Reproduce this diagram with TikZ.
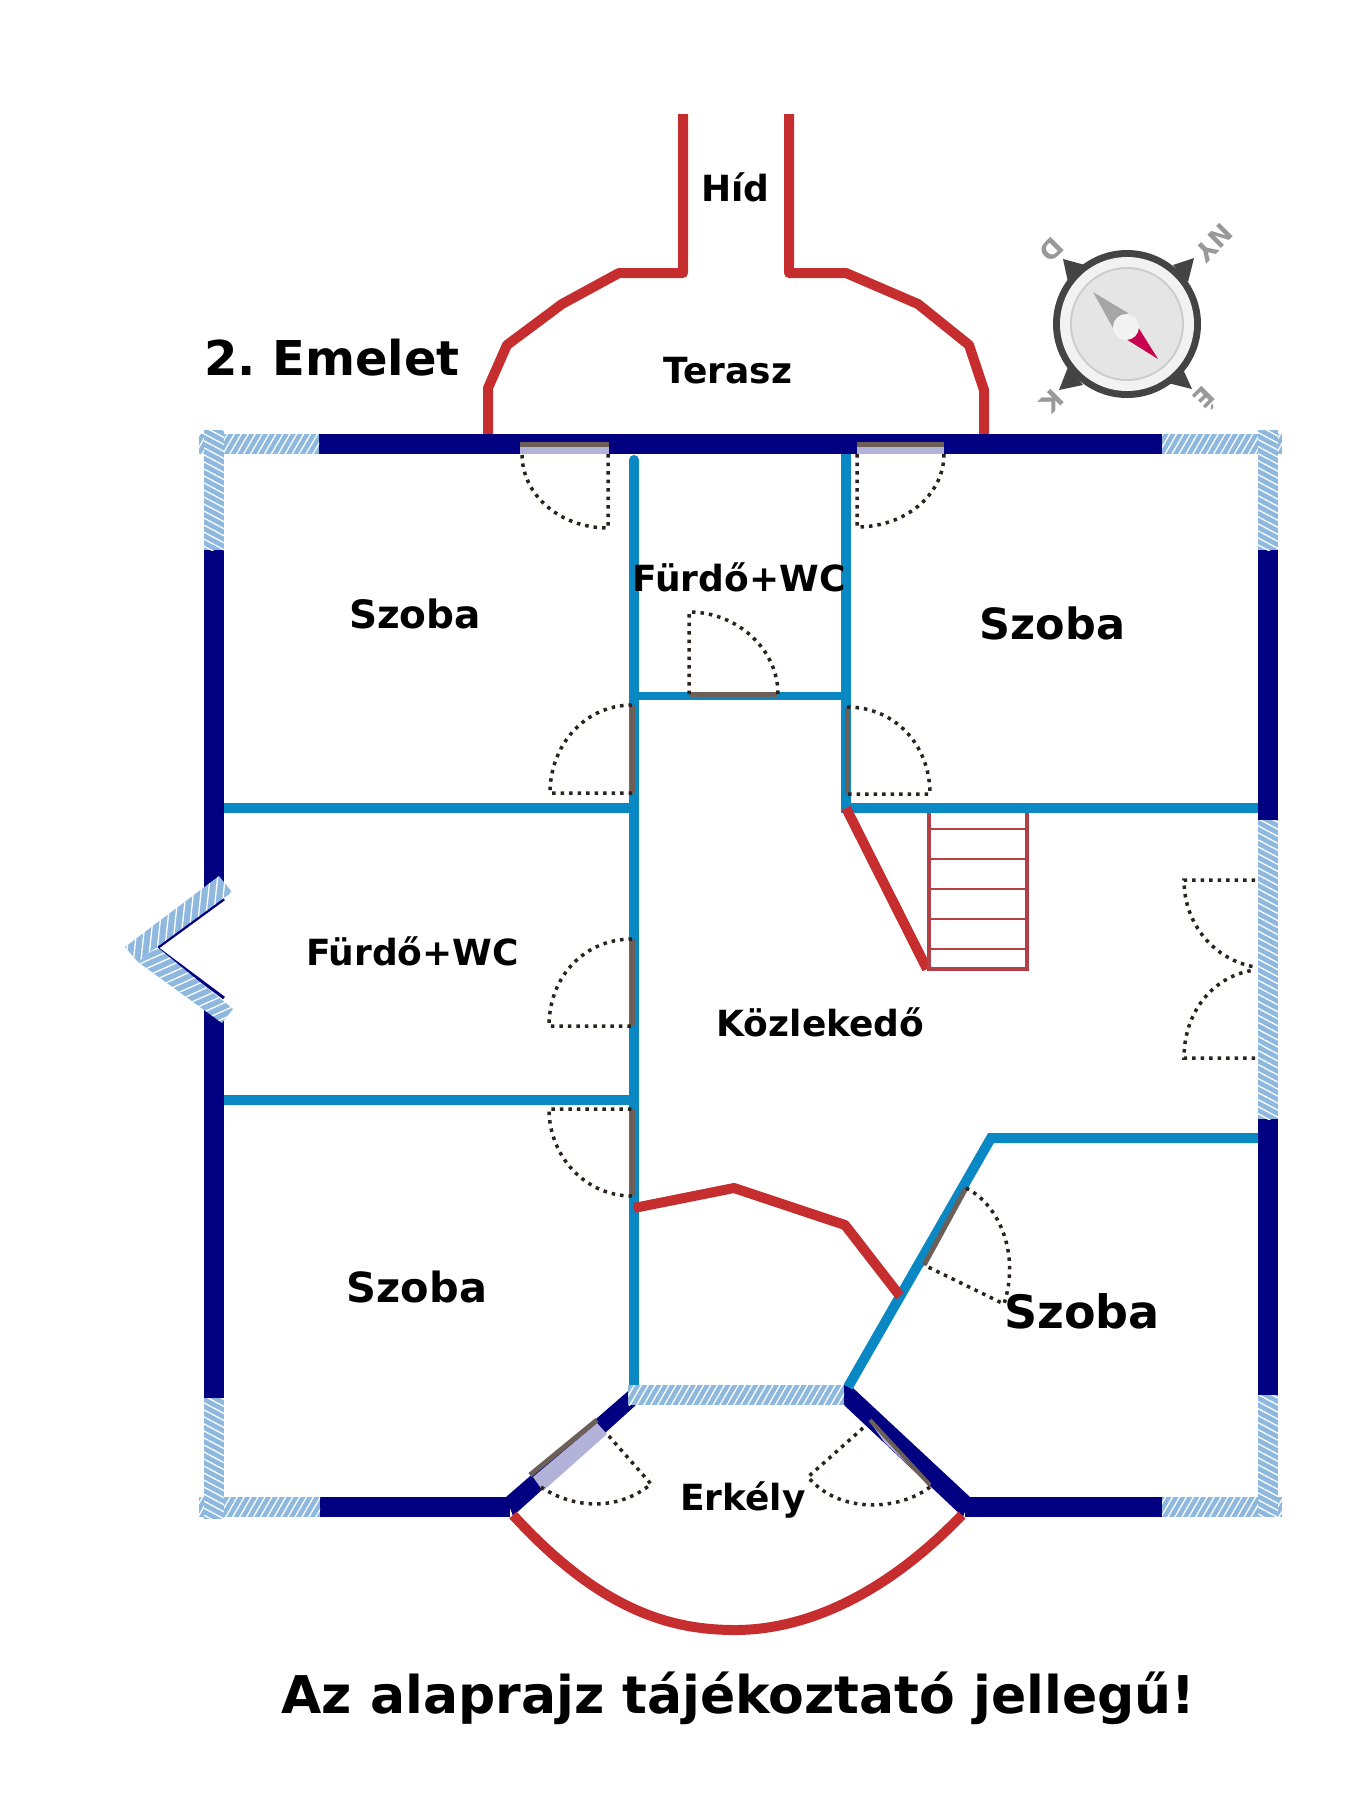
\documentclass[tikz,border=0pt]{standalone}
\usepackage{fontspec}
\setmainfont{DejaVu Sans}
\usetikzlibrary{patterns.meta}
\definecolor{wallnavy}{HTML}{000080}
\definecolor{wallblue}{HTML}{0A88C4}
\definecolor{wallred}{HTML}{C52D2F}
\definecolor{stairred}{HTML}{B33F47}
\definecolor{hatchblue}{HTML}{8FB8DE}
\definecolor{leafgray}{HTML}{6B5F58}
\definecolor{glasslila}{HTML}{B3B3D9}
\definecolor{swingdark}{HTML}{2B221E}
\definecolor{compdark}{HTML}{444444}
\definecolor{needlered}{HTML}{C8004F}

\begin{document}
\frenchspacing
\begin{tikzpicture}[x=1pt,y=-1pt,
			navywall/.style={draw=wallnavy,line width=20pt},
			bluewall/.style={draw=wallblue,line width=10pt,line join=miter},
			redwall/.style={draw=wallred,line width=10pt,line join=round},
			hatch/.style 2 args={preaction={fill=hatchblue},pattern={Lines[angle=#1,distance=#2,line width=1.3pt]},pattern color=white},
			leaf/.style={draw=leafgray,line width=5pt},
			swing/.style={draw=swingdark,line width=3.5pt,dash pattern=on 3.5pt off 5pt},
			stair/.style={draw=stairred,line width=3.5pt},
			roomlabel/.style={font=\bfseries\fontsize{#1}{#1}\selectfont,anchor=base,inner sep=0pt},
			completter/.style={font=\bfseries\fontsize{26}{26}\selectfont,text=black!40,rotate=225,inner sep=0pt}
		]
		\useasboundingbox (0,0) rectangle (1360,1800);

		% terrace and bridge
		\draw[redwall] (683,114) -- (683,273) -- (619,273) -- (562,304) -- (507,345) -- (488,388) -- (488,434);
		\draw[redwall] (789,114) -- (789,273) -- (846,273) -- (918,304) -- (969,345) -- (984,390) -- (984,434);

		% outer walls
		\draw[navywall] (319,444) -- (1162,444);
		\draw[navywall] (214,550) -- (214,888);
		\draw[navywall] (214,1010) -- (214,1398);
		\draw[navywall] (1268,550) -- (1268,820);
		\draw[navywall] (1268,1119) -- (1268,1395);
		\draw[navywall] (320,1507) -- (510,1507);
		\draw[navywall] (965,1507) -- (1162,1507);
		\fill[wallnavy] (506,1497) -- (634,1386) -- (636,1405) -- (513,1516) -- cycle;
		\fill[wallnavy] (844,1385) -- (852,1387) -- (970,1497) -- (963,1517) -- (844,1405) -- cycle;

		% inner walls
		\draw[bluewall,line cap=round] (634,460) -- (634,1385);
		\draw[bluewall] (846,454) -- (846,813);
		\draw[bluewall,line width=8pt] (634,696) -- (846,696);
		\draw[bluewall] (224,808) -- (634,808);
		\draw[bluewall] (846,808) -- (1258,808);
		\draw[bluewall] (224,1100) -- (634,1100);
		\draw[bluewall] (848,1387) -- (991,1138) -- (1258,1138);

		% inner red lines
		\draw[redwall] (634,1208) -- (734,1188) -- (845,1225) -- (900,1296);
		\draw[redwall] (846,808) -- (927,969);

		% stairs
		\draw[stair] (929,813) -- (929,969) -- (1027,969) -- (1027,813);
		\foreach \y in {829,859,889,919,949}
			\draw[stairred,line width=2pt] (929,\y) -- (1027,\y);

		% balcony
		\draw[redwall] (513,1515) .. controls (600,1610) and (670,1630) .. (735,1630) .. controls (800,1630) and (880,1600) .. (962,1515);

		% hatched walls
		\fill[hatch={60}{6pt}] (199,434) rectangle (319,454);
		\fill[hatch={60}{6pt}] (1162,434) rectangle (1282,454);
		\fill[hatch={60}{6pt}] (199,1497) rectangle (320,1517);
		\fill[hatch={60}{6pt}] (1162,1497) rectangle (1282,1517);
		\fill[hatch={60}{6pt}] (628,1385) rectangle (844,1405);
		\fill[hatch={-28}{6.2pt}] (204,430) rectangle (224,550);
		\fill[hatch={-28}{6.2pt}] (1258,430) rectangle (1278,550);
		\fill[hatch={-28}{6.2pt}] (204,1398) rectangle (224,1519);
		\fill[hatch={-28}{6.2pt}] (1258,1395) rectangle (1278,1517);
		\fill[hatch={-28}{6.2pt}] (1258,820) rectangle (1278,1119);

		% bay window
		\draw[wallnavy,line width=3pt] (224,899) -- (157,948) -- (224,998);
		\fill[hatch={84}{7.5pt}] (219,876) -- (232,892) -- (157,947) -- (138,962) -- (125,947) -- cycle;
		\fill[hatch={24}{7pt}] (157,947) -- (233,1009) -- (222,1023) -- (138,962) -- cycle;

		% glass and leaves
		\fill[glasslila] (520,447) rectangle (609,454);
		\fill[glasslila] (857,447) rectangle (944,454);
		\fill[glasslila] (533,1477) -- (597,1423) -- (607,1434) -- (543,1491) -- cycle;
		\fill[glasslila] (870,1422) -- (885,1443) -- (930,1485) -- cycle;
		\draw[leaf] (520,444.5) -- (609,444.5);
		\draw[leaf] (857,444.5) -- (944,444.5);
		\draw[leaf] (689,694) -- (778,694);
		\draw[leaf] (632,705) -- (632,793);
		\draw[leaf] (847,707) -- (847,794);
		\draw[leaf] (632,939) -- (632,1026);
		\draw[leaf] (632,1109) -- (632,1196);
		\draw[leaf] (966,1188) -- (924,1265);
		\draw[leaf] (530,1475) -- (597,1420);
		\draw[leaf,line width=4pt] (870,1420) -- (930,1485);

		% door swings
		\draw[swing] (608,454) -- (608,528) .. controls (560,528) and (522,495) .. (522,454);
		\draw[swing] (857,454) -- (857,527) .. controls (905,527) and (944,495) .. (944,454);
		\draw[swing] (689,694) -- (689,612) .. controls (738,612) and (778,650) .. (778,694);
		\draw[swing] (632,705) .. controls (585,705) and (550,745) .. (550,793) -- (632,793);
		\draw[swing] (847,707) .. controls (895,707) and (930,745) .. (930,794) -- (847,794);
		\draw[swing] (632,939) .. controls (585,939) and (549,976) .. (549,1026) -- (632,1026);
		\draw[swing] (632,1196) .. controls (585,1196) and (549,1156) .. (549,1109) -- (632,1109);
		\draw[swing] (1255,880) -- (1184,880) .. controls (1184,925) and (1215,960) .. (1255,967);
		\draw[swing] (1255,1058) -- (1184,1058) .. controls (1184,1010) and (1215,975) .. (1255,970);
		\draw[swing] (966,1188) .. controls (1000,1205) and (1020,1255) .. (1004,1304) -- (924,1265);
		\draw[swing] (541,1487) .. controls (575,1510) and (620,1510) .. (651,1484) -- (608,1435);
		\draw[swing] (930,1487) .. controls (900,1510) and (840,1515) .. (808,1477) -- (863,1428);

		% compass
		\fill[compdark] (1194,258) -- (1173,265) -- (1188,282) -- cycle;
		\fill[compdark] (1063,259) -- (1085,265) -- (1068,282) -- cycle;
		\fill[compdark] (1059,390) -- (1068,367) -- (1083,385) -- cycle;
		\fill[compdark] (1192,389) -- (1182,367) -- (1168,383) -- cycle;
		\fill[compdark] (1127,324) circle[radius=74pt];
		\fill[black!5] (1127,324) circle[radius=67pt];
		\fill[black!20] (1127,324) circle[radius=57pt];
		\fill[black!10] (1127,324) circle[radius=55pt];
		\fill[black!35] (1093,292) -- (1128,313) -- (1113,328) -- cycle;
		\fill[needlered] (1158,359) -- (1138,327) -- (1126,339) -- cycle;
		\fill[black!5] (1126,327) circle[radius=13pt];
		\node[completter] (compNY) at (1214,243) {NY};
		\node[completter] (compD) at (1052,250) {D};
		\node[completter] (compK) at (1052,401) {K};
		\node[completter] (compE) at (1206,399) {É};

		% labels
		\node[roomlabel=36] (hid) at (735.5,201) {Híd};
		\node[roomlabel=36] (terasz) at (728,383) {Terasz};
		\node[roomlabel=48] (emelet) at (332,375) {2. Emelet};
		\node[roomlabel=39] (szobaA) at (415,628) {Szoba};
		\node[roomlabel=43] (szobaB) at (1052.5,639) {Szoba};
		\node[roomlabel=41.5] (szobaC) at (417,1302) {Szoba};
		\node[roomlabel=46] (szobaD) at (1082,1328) {Szoba};
		\node[roomlabel=36] (fA) at (739,591) {Fürdő+WC};
		\node[roomlabel=36] (fB) at (412.5,965) {Fürdő+WC};
		\node[roomlabel=36] (kozl) at (820.5,1036) {Közlekedő};
		\node[roomlabel=36] (erkely) at (743,1510) {Erkély};
		\node[roomlabel=52] (note) at (738.5,1713) {Az alaprajz tájékoztató jellegű!};
	\end{tikzpicture}
\end{document}
